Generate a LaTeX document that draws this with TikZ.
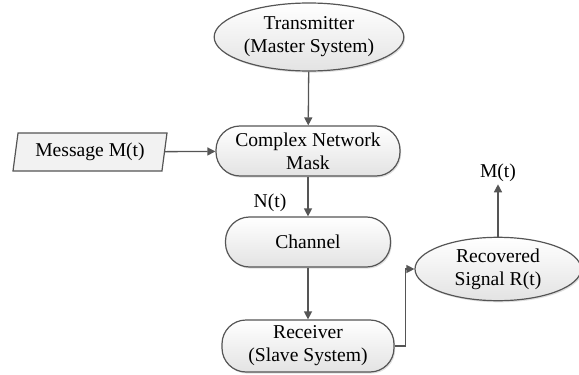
\documentclass[tikz,border=0pt]{standalone}
\usepackage{fontspec}
\setmainfont{Liberation Serif}
\usepackage{tikz}
\usetikzlibrary{arrows.meta,positioning,shapes.geometric,shadows}
\definecolor{edgegray}{RGB}{85,85,85}

\begin{document}
\begin{tikzpicture}[x=0.5pt, y=-0.5pt,
          base/.style={draw=edgegray, semithick, top color=white,
                       bottom color=black!11, align=center,
                       font=\fontsize{9.8pt}{11.5pt}\selectfont, inner sep=1pt,
                       drop shadow={opacity=0.25, shadow xshift=0.6pt,
                                    shadow yshift=-0.8pt}},
          ell/.style={base, ellipse},
          box/.style={base, rounded corners=12pt},
          io/.style={trapezium, trapezium left angle=77,
                     trapezium right angle=103, trapezium stretches body,
                     draw=edgegray, semithick, fill=black!5,
                     font=\fontsize{9.8pt}{11.5pt}\selectfont,
                     minimum width=77pt, minimum height=19pt, inner sep=1pt},
          arr/.style={-{Triangle[length=4pt,width=4pt]}, edgegray, line width=0.65pt},
          lbl/.style={font=\fontsize{9.8pt}{11.5pt}\selectfont, inner sep=1pt}
        ]
          \useasboundingbox (0,0) rectangle (579,375);
          \node[ell, minimum width=94pt, minimum height=34pt] (tx) at (309,37) {Transmitter\\(Master System)};
          \node[box, minimum width=92pt, minimum height=25pt] (mask) at (308,151) {Complex Network\\Mask};
          \node[io] (msg) at (90,152) {Message M(t)};
          \node[box, minimum width=82.5pt, minimum height=25pt] (chan) at (308,242) {Channel};
          \node[box, minimum width=86pt, minimum height=26pt] (rx) at (308,346) {Receiver\\(Slave System)};
          \node[ell, minimum width=83pt, minimum height=29pt] (rec) at (498,269) {Recovered\\Signal R(t)};
          \node[lbl] (nt) at (270,203) {N(t)};
          \node[lbl] (mt) at (498,173) {M(t)};
          \draw[arr] (tx) -- (mask);
          \draw[arr] (msg) -- (mask);
          \draw[arr] (mask) -- (chan);
          \draw[arr] (chan) -- (rx);
          % receiver output turns up into the recovered signal
          \draw[arr] (rx.east) -- ++(11,0) |- (rec.west);
          \draw[arr] (rec) -- (mt);
        \end{tikzpicture}
\end{document}
